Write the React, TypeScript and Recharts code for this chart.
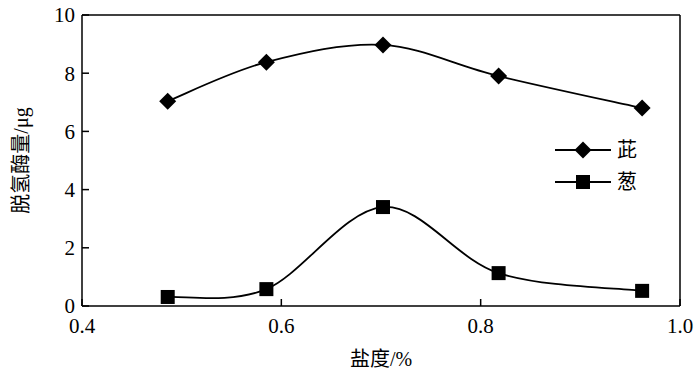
import React from 'react';
import { LineChart, Line, XAxis, YAxis, ReferenceLine } from 'recharts';

// salinity (%) on x
const salinity = [0.486, 0.585, 0.702, 0.818, 0.962];
// dehydrogenase amount (μg)
const ciValues = [7.04, 8.38, 8.97, 7.9, 6.8];
const congValues = [0.31, 0.58, 3.4, 1.13, 0.52];

const xTicks = [0.4, 0.6, 0.8, 1.0];
const yTicks = [0, 2, 4, 6, 8, 10];

const seriesNames = { ci: '茈', cong: '葱' };

const FONT = '"Liberation Serif", "Noto Sans CJK SC", serif';

const chartData = salinity.map((s, i) => ({ s, ci: ciValues[i], cong: congValues[i] }));

// catmull-rom style smoothing, like a spreadsheet "smoothed line"
const smoothCurve = (context: any) => {
  let pts: number[][] = [];
  return {
    areaStart() {},
    areaEnd() {},
    lineStart() {
      pts = [];
    },
    point(x: number, y: number) {
      pts.push([+x, +y]);
    },
    lineEnd() {
      if (!pts.length) return;
      context.moveTo(pts[0][0], pts[0][1]);
      for (let i = 0; i < pts.length - 1; i++) {
        const p0 = pts[i - 1] || pts[i];
        const p1 = pts[i];
        const p2 = pts[i + 1];
        const p3 = pts[i + 2] || p2;
        const k = 1 / 6;
        context.bezierCurveTo(
          p1[0] + (p2[0] - p0[0]) * k,
          p1[1] + (p2[1] - p0[1]) * k,
          p2[0] - (p3[0] - p1[0]) * k,
          p2[1] - (p3[1] - p1[1]) * k,
          p2[0],
          p2[1]
        );
      }
    },
  };
};

const Diamond = ({ cx, cy }: any) => (
  <path d={`M${cx},${cy - 8.5} L${cx + 8.5},${cy} L${cx},${cy + 8.5} L${cx - 8.5},${cy} Z`} fill="#000" />
);

const Square = ({ cx, cy }: any) => <rect x={cx - 7} y={cy - 7} width={14} height={14} fill="#000" />;

const ChartLegend = () => (
  <svg width={90} height={60} style={{ position: 'absolute', left: 553, top: 137 }}>
    <line x1={2} x2={58} y1={13} y2={13} stroke="#000" strokeWidth={1.8} />
    <Diamond cx={30} cy={13} />
    <text x={64} y={20} fontSize={20} fontFamily={FONT}>{seriesNames.ci}</text>
    <line x1={2} x2={58} y1={45} y2={45} stroke="#000" strokeWidth={1.8} />
    <Square cx={30} cy={45} />
    <text x={64} y={52} fontSize={20} fontFamily={FONT}>{seriesNames.cong}</text>
  </svg>
);

export default function App() {
  return (
    <div style={{ position: 'absolute', left: 0, top: 0, width: 700, height: 376, background: '#fff' }}>
      <LineChart
        width={700}
        height={376}
        data={chartData}
        margin={{ top: 15, right: 20, left: 30, bottom: 20 }}
      >
        <XAxis
          dataKey="s"
          type="number"
          domain={[0.4, 1.0]}
          ticks={xTicks}
          tickFormatter={(v: number) => v.toFixed(1)}
          height={50}
          tickSize={-7}
          tickMargin={19}
          stroke="#000"
          strokeWidth={1.5}
          tick={{ fill: '#000', fontSize: 21, fontFamily: FONT }}
          label={{
            value: '盐度/%',
            position: 'insideBottom',
            offset: -10,
            style: { fill: '#000', fontSize: 20, fontFamily: FONT },
          }}
        />
        <YAxis
          type="number"
          domain={[0, 10]}
          ticks={yTicks}
          width={52}
          tickSize={-7}
          tickMargin={14}
          stroke="#000"
          strokeWidth={1.5}
          tick={{ fill: '#000', fontSize: 21, fontFamily: FONT }}
          label={{
            value: '脱氢酶量/μg',
            angle: -90,
            position: 'insideLeft',
            offset: -9,
            style: { textAnchor: 'middle', fill: '#000', fontSize: 20, fontFamily: FONT },
          }}
        />
        <ReferenceLine y={10} stroke="#000" strokeWidth={1.5} />
        <ReferenceLine x={1.0} stroke="#000" strokeWidth={1.5} />
        <Line
          dataKey="ci"
          name={seriesNames.ci}
          type={smoothCurve as any}
          stroke="#000"
          strokeWidth={1.8}
          dot={<Diamond />}
          isAnimationActive={false}
        />
        <Line
          dataKey="cong"
          name={seriesNames.cong}
          type={smoothCurve as any}
          stroke="#000"
          strokeWidth={1.8}
          dot={<Square />}
          isAnimationActive={false}
        />
      </LineChart>
      <ChartLegend />
    </div>
  );
}
